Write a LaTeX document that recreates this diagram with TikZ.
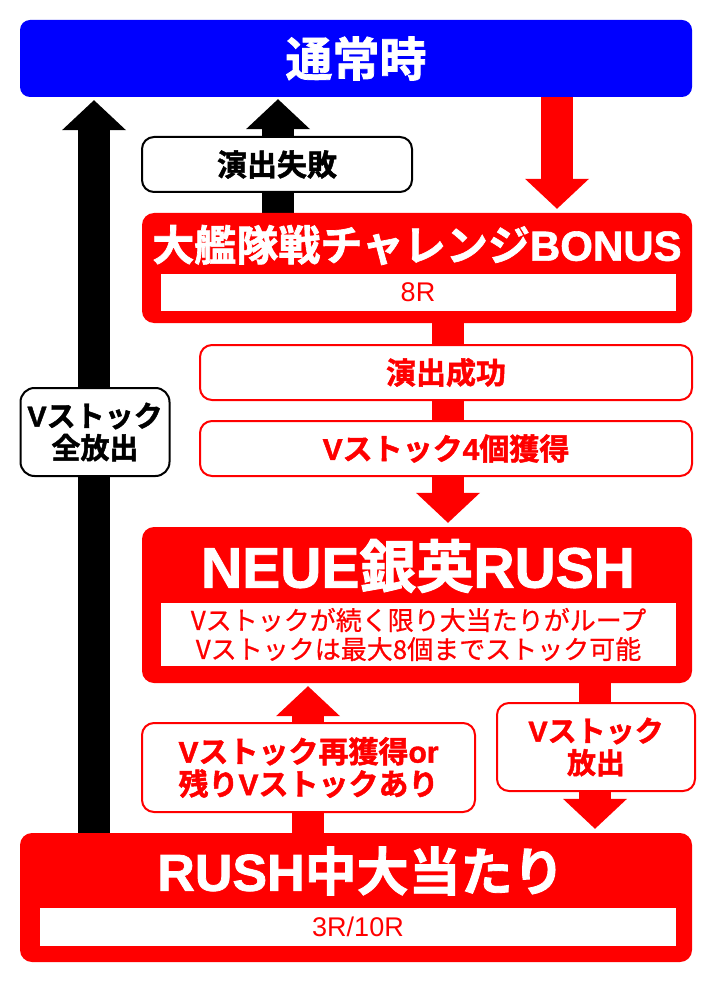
\documentclass[tikz,border=0pt]{standalone}
\usepackage{fontspec}
\setmainfont{Noto Sans CJK JP}[BoldFont={Noto Sans CJK JP Bold}]
\newfontfamily\heavy{Noto Sans CJK JP Bold}[AutoFakeBold=1.6]
\newfontfamily\heavylatin{Liberation Sans Bold}[AutoFakeBold=1.4]
\newfontfamily\medium{Noto Sans CJK JP}[AutoFakeBold=0.6]
\newfontfamily\plainlatin{Liberation Sans}
\usetikzlibrary{arrows.meta,backgrounds}

\definecolor{rushred}{RGB}{255,0,0}
\definecolor{normalblue}{RGB}{0,0,255}

\newcommand{\lat}[1]{{\heavylatin\bfseries #1}}

\tikzset{
  stage/.style={rectangle,rounded corners=12pt,fill=rushred,inner sep=0pt},
  heading/.style={text=white,inner sep=0pt,font=\heavy\bfseries\fontsize{42}{42}\selectfont},
  detail/.style={rectangle,fill=white,text=rushred,inner sep=0pt,align=center,
    font=\medium\bfseries\fontsize{26}{29}\selectfont},
  redlabel/.style={rectangle,rounded corners=12pt,draw=rushred,line width=2pt,fill=white,
    text=rushred,inner sep=0pt,align=center,font=\heavy\bfseries\fontsize{30}{32.5}\selectfont},
  blacklabel/.style={redlabel,draw=black,text=black},
  flow/.style={line width=32pt,shorten >=4pt,
    -{Triangle[width=64pt,length=30pt,line width=0pt]}},
}

\begin{document}
\begin{tikzpicture}[x=1pt,y=-1pt]
  \useasboundingbox (0,0) rectangle (712,984);

  % lanes of the block arrows
  \coordinate (allcol) at (94,0);
  \coordinate (failcol) at (278,0);
  \coordinate (entrycol) at (557,0);
  \coordinate (midcol) at (448,0);
  \coordinate (loopcol) at (308,0);
  \coordinate (releasecol) at (595,0);

  % normal play
  \node[stage,fill=normalblue,rounded corners=10pt,minimum width=672pt,minimum height=77pt,
    text=white,font=\heavy\bfseries\fontsize{47}{47}\selectfont] (normal) at (356,58.5) {通常時};

  % challenge bonus
  \node[stage,minimum width=550pt,minimum height=110pt] (bonus) at (417,268) {};
  \node[heading] (bonustitle) at (417,245) {大艦隊戦チャレンジ\lat{BONUS}};
  \node[detail,minimum width=515pt,minimum height=37pt,font=\plainlatin\fontsize{27}{27}\selectfont]
    (bonusrounds) at (418,292) {8R};

  \node[blacklabel,minimum width=270pt,minimum height=55pt] (fail) at (277,164.5) {演出失敗};
  \node[redlabel,minimum width=492pt,minimum height=55pt] (success) at (446,372.5) {演出成功};
  \node[redlabel,minimum width=492pt,minimum height=55pt] (stock) at (446,448.5) {\lat{V}ストック\lat{4}個獲得};
  \node[blacklabel,rounded corners=14pt,minimum width=149pt,minimum height=88pt,
    font=\heavy\bfseries\fontsize{29}{32}\selectfont] (allout) at (95,432) {\lat{V}ストック\\全放出};

  % NEUE rush
  \node[stage,minimum width=550pt,minimum height=156pt] (neue) at (417,605) {};
  \node[heading,font=\heavy\bfseries\fontsize{57}{57}\selectfont] (neuetitle) at (418,566)
    {\lat{NEUE}銀英\lat{RUSH}};
  \node[detail,minimum width=515pt,minimum height=63pt] (neueloop) at (418.5,634.5)
    {Vストックが続く限り大当たりがループ\\Vストックは最大8個までストック可能};

  \node[redlabel,minimum width=333pt,minimum height=89pt] (again) at (308.5,767.5)
    {\lat{V}ストック再獲得\lat{or}\\残り\lat{V}ストックあり};
  \node[redlabel,minimum width=198pt,minimum height=88pt,
    font=\heavy\bfseries\fontsize{29}{32}\selectfont] (release) at (596,747) {\lat{V}ストック\\放出};

  % jackpot during rush
  \node[stage,minimum width=672pt,minimum height=129pt] (rush) at (356,897.5) {};
  \node[heading,font=\heavy\bfseries\fontsize{52}{52}\selectfont] (rushtitle) at (361,871)
    {\lat{RUSH}中大当たり};
  \node[detail,minimum width=636pt,minimum height=38pt,font=\plainlatin\fontsize{27}{27}\selectfont]
    (rushrounds) at (358,927) {3R/10R};

  \begin{scope}[on background layer]
    \draw[flow,black,shorten >=3pt] (rush.north -| allcol) -- (normal.south -| allcol);
    \draw[flow,black,shorten >=2pt] (bonus.north -| failcol) -- (normal.south -| failcol);
    \draw[flow,rushred] (normal.south -| entrycol) -- (bonus.north -| entrycol);
    \draw[flow,rushred] (bonus.south -| midcol) -- (neue.north -| midcol);
    \draw[flow,rushred,shorten >=3pt] (rush.north -| loopcol) -- (neue.south -| loopcol);
    \draw[flow,rushred] (neue.south -| releasecol) -- (rush.north -| releasecol);
  \end{scope}
\end{tikzpicture}
\end{document}
